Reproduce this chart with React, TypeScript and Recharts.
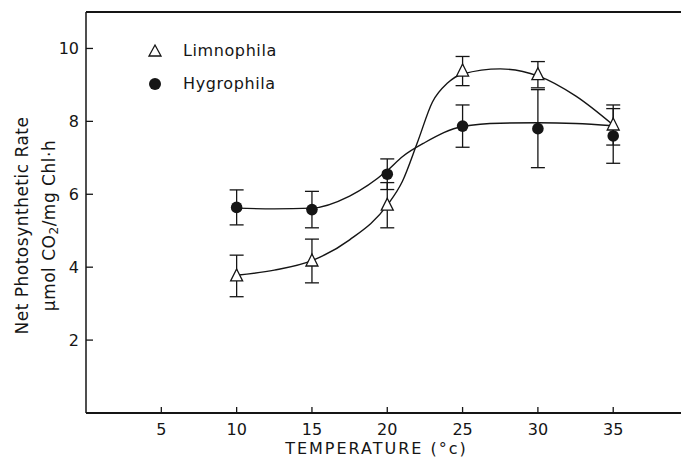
import React from 'react';
import { ComposedChart, Line, Scatter, XAxis, YAxis, ErrorBar, ReferenceLine, Legend } from 'recharts';

const temperatures = [10, 15, 20, 25, 30, 35];
const limnophilaRate = [3.76, 4.17, 5.7, 9.38, 9.28, 7.9];
const limnophilaErr = [0.57, 0.6, 0.62, 0.4, 0.36, 0.55];
const hygrophilaRate = [5.64, 5.58, 6.55, 7.87, 7.8, 7.6];
const hygrophilaErr = [0.48, 0.5, 0.42, 0.58, 1.07, 0.75];

const limCurveX = [10, 12.5, 15, 17.5, 20, 21, 22, 23, 24, 25, 27.5, 30, 32.5, 35];
const limCurveY = [3.78, 3.92, 4.18, 4.75, 5.7, 6.35, 7.42, 8.53, 9.05, 9.3, 9.44, 9.25, 8.7, 7.9];
const hygCurveX = [10, 12.5, 15, 17.5, 20, 21, 22.5, 25, 27.5, 30, 32.5, 35];
const hygCurveY = [5.62, 5.6, 5.62, 5.95, 6.65, 7.03, 7.42, 7.86, 7.95, 7.96, 7.94, 7.88];

const xTicks = [5, 10, 15, 20, 25, 30, 35];
const yTicks = [2, 4, 6, 8, 10];
const seriesNames = ['Limnophila', 'Hygrophila'];

const limPoints = temperatures.map((x, i) => ({ x, y: limnophilaRate[i], err: limnophilaErr[i] }));
const hygPoints = temperatures.map((x, i) => ({ x, y: hygrophilaRate[i], err: hygrophilaErr[i] }));
const limCurve = limCurveX.map((x, i) => ({ x, y: limCurveY[i] }));
const hygCurve = hygCurveX.map((x, i) => ({ x, y: hygCurveY[i] }));

const FONT = '"DejaVu Sans", sans-serif';
const INK = '#151515';

const Triangle = (props: any) => {
  const { cx, cy } = props;
  if (cx == null || cy == null) return null;
  const s = 6;
  return (
    <path
      d={`M${cx},${cy - s - 1} L${cx + s},${cy + s - 1} L${cx - s},${cy + s - 1} Z`}
      fill="#fff"
      stroke={INK}
      strokeWidth={1.3}
    />
  );
};

const Dot = (props: any) => {
  const { cx, cy } = props;
  if (cx == null || cy == null) return null;
  return <circle cx={cx} cy={cy} r={5.8} fill={INK} />;
};

const YLabel = (props: any) => {
  const vb = props.viewBox || { x: 0, y: 0, width: 0, height: 0 };
  const cy = vb.y + vb.height / 2 + 13;
  return (
    <g fontFamily={FONT} fill={INK} fontSize={17} letterSpacing={0.5}>
      <text transform={`translate(${vb.x + 22}, ${cy}) rotate(-90)`} textAnchor="middle" dominantBaseline="central">
        Net Photosynthetic Rate
      </text>
      <text transform={`translate(${vb.x + 49}, ${cy}) rotate(-90)`} textAnchor="middle" dominantBaseline="central">
        <tspan>µmol CO</tspan>
        <tspan dy={5} fontSize={12}>2</tspan>
        <tspan dy={-5}>/mg Chl·h</tspan>
      </text>
    </g>
  );
};

const LegendContent = () => (
  <div style={{ fontFamily: FONT, fontSize: 16, color: INK, letterSpacing: 0.6 }}>
    {seriesNames.map((name, i) => (
      <div key={name} style={{ display: 'flex', alignItems: 'center', height: 33 }}>
        <svg width={24} height={20} style={{ marginRight: 16 }}>
          {i === 0 ? (
            <path d="M12,4 L18,15 L6,15 Z" fill="#fff" stroke={INK} strokeWidth={1.3} />
          ) : (
            <circle cx={12} cy={10} r={6} fill={INK} />
          )}
        </svg>
        <span>{name}</span>
      </div>
    ))}
  </div>
);

export default function App() {
  return (
    <div style={{ position: 'absolute', left: 0, top: 0, width: 681, height: 460, overflow: 'hidden', background: '#fff' }}>
      <ComposedChart width={681} height={460} margin={{ top: 12, right: 0, bottom: 0, left: 0 }}>
        <XAxis
          type="number"
          dataKey="x"
          domain={[0, 39.5]}
          ticks={xTicks}
          allowDataOverflow
          height={47}
          tickSize={-6}
          tickMargin={17}
          axisLine={{ stroke: INK, strokeWidth: 2 }}
          tickLine={{ stroke: INK, strokeWidth: 1.3 }}
          tick={{ fill: INK, fontSize: 16, fontFamily: FONT }}
          label={{ value: 'TEMPERATURE (°c)', position: 'insideBottom', offset: 6, dx: -7, fill: INK, fontSize: 16, fontFamily: FONT, letterSpacing: 2 }}
        />
        <YAxis
          type="number"
          dataKey="y"
          domain={[0, 11]}
          ticks={yTicks}
          allowDataOverflow
          width={86}
          tickSize={-7}
          tickMargin={14}
          axisLine={{ stroke: INK, strokeWidth: 1.5 }}
          tickLine={{ stroke: INK, strokeWidth: 1.3 }}
          tick={{ fill: INK, fontSize: 16, fontFamily: FONT }}
          label={<YLabel />}
        />
        <ReferenceLine y={11} stroke={INK} strokeWidth={2} />
        <Line data={limCurve} dataKey="y" type="monotone" dot={false} activeDot={false} stroke={INK} strokeWidth={1.4} isAnimationActive={false} legendType="none" />
        <Line data={hygCurve} dataKey="y" type="monotone" dot={false} activeDot={false} stroke={INK} strokeWidth={1.4} isAnimationActive={false} legendType="none" />
        <Scatter name={seriesNames[1]} data={hygPoints} dataKey="y" shape={<Dot />} isAnimationActive={false}>
          <ErrorBar dataKey="err" direction="y" width={7} stroke={INK} strokeWidth={1.3} />
        </Scatter>
        <Scatter name={seriesNames[0]} data={limPoints} dataKey="y" shape={<Triangle />} isAnimationActive={false}>
          <ErrorBar dataKey="err" direction="y" width={7} stroke={INK} strokeWidth={1.3} />
        </Scatter>
        <Legend
          layout="vertical"
          align="center"
          verticalAlign="middle"
          content={<LegendContent />}
          wrapperStyle={{ position: 'absolute', left: 143, top: 34, width: 180 }}
        />
      </ComposedChart>
    </div>
  );
}
